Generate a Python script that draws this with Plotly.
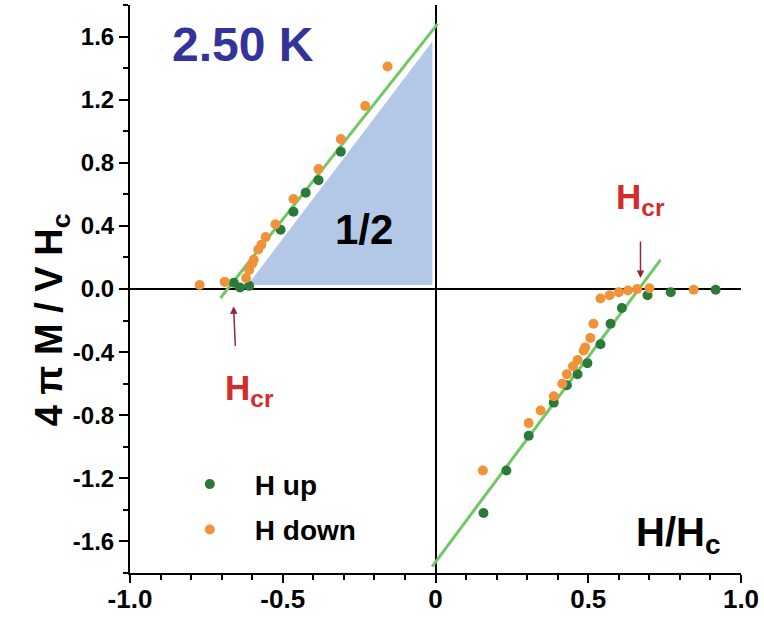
import plotly.graph_objects as go

# ---- data ----
up_x = [-0.66, -0.64, -0.61, -0.507, -0.465, -0.425, -0.383, -0.31,
        0.694, 0.77, 0.917, 0.61, 0.573, 0.54, 0.497, 0.465, 0.43, 0.387,
        0.305, 0.232, 0.157]
up_y = [0.04, 0.01, 0.02, 0.375, 0.49, 0.61, 0.69, 0.87,
        -0.04, -0.02, -0.005, -0.12, -0.22, -0.35, -0.47, -0.54, -0.61, -0.72,
        -0.93, -1.15, -1.42]

down_x = [-0.772, -0.69, -0.62, -0.61, -0.60, -0.595, -0.58, -0.57, -0.556,
          -0.524, -0.465, -0.383, -0.31, -0.23, -0.157,
          0.845, 0.70, 0.66, 0.63, 0.60, 0.57, 0.54, 0.517, 0.507, 0.49,
          0.485, 0.465, 0.45, 0.43, 0.415, 0.387, 0.344, 0.305, 0.155]
down_y = [0.025, 0.045, 0.07, 0.12, 0.16, 0.185, 0.25, 0.28, 0.33,
          0.41, 0.57, 0.76, 0.95, 1.16, 1.41,
          -0.005, 0.005, 0.0, -0.01, -0.02, -0.04, -0.06, -0.22, -0.31, -0.37,
          -0.39, -0.45, -0.49, -0.54, -0.6, -0.68, -0.77, -0.85, -1.15]

fit_left_x = [-0.704, 0.007]
fit_left_y = [-0.057, 1.68]
fit_right_x = [-0.011, 0.7365]
fit_right_y = [-1.759, 0.185]

tri_x = [-0.615, -0.01, -0.01, -0.615]
tri_y = [0.025, 0.025, 1.57, 0.025]

x_tickvals = [-1.0, -0.5, 0, 0.5, 1.0]
x_ticktext = ["-1.0", "-0.5", "0", "0.5", "1.0"]
y_tickvals = [-1.6, -1.2, -0.8, -0.4, 0.0, 0.4, 0.8, 1.2, 1.6]
y_ticktext = ["-1.6", "-1.2", "-0.8", "-0.4", "0.0", "0.4", "0.8", "1.2", "1.6"]

FONT = "Liberation Sans, Arial, sans-serif"
GREEN = "#2b7a3a"
ORANGE = "#f0923a"
FITC = "rgb(110,200,100)"

fig = go.Figure()

fig.add_trace(go.Scatter(x=tri_x, y=tri_y, fill="toself", mode="none",
                         fillcolor="#b3c8e6", showlegend=False, hoverinfo="skip"))
fig.add_trace(go.Scatter(x=fit_left_x, y=fit_left_y, mode="lines",
                         line=dict(color=FITC, width=3), showlegend=False))
fig.add_trace(go.Scatter(x=fit_right_x, y=fit_right_y, mode="lines",
                         line=dict(color=FITC, width=3), showlegend=False))
fig.add_trace(go.Scatter(x=up_x, y=up_y, mode="markers", name="H up", legendgroup="a",
                         marker=dict(color=GREEN, size=10, symbol="circle")))
fig.add_trace(go.Scatter(x=down_x, y=down_y, mode="markers", name="H down", legendgroup="b",
                         marker=dict(color=ORANGE, size=10, symbol="circle")))

fig.update_xaxes(range=[-1.0, 1.0], tickvals=x_tickvals, ticktext=x_ticktext,
                 showgrid=False, zeroline=True, zerolinecolor="black", zerolinewidth=2,
                 showline=True, linecolor="black", linewidth=2,
                 ticks="outside", ticklen=8, tickwidth=2, tickcolor="black",
                 ticklabelstandoff=-6,
                 minor=dict(dtick=0.1, ticks="outside", ticklen=5, tickwidth=2,
                            tickcolor="black", showgrid=False),
                 tickfont=dict(family=FONT, size=26, color="black", weight="bold"))
fig.update_yaxes(range=[-1.8, 1.8], tickvals=y_tickvals, ticktext=y_ticktext,
                 showgrid=False, zeroline=True, zerolinecolor="black", zerolinewidth=2,
                 showline=True, linecolor="black", linewidth=2,
                 ticks="outside", ticklen=9, tickwidth=2, tickcolor="black",
                 minor=dict(dtick=0.2, ticks="outside", ticklen=5, tickwidth=2,
                            tickcolor="black", showgrid=False),
                 tickfont=dict(family=FONT, size=24, color="black", weight="bold"))

annotations = [
    dict(x=-0.63, y=1.55, xref="x", yref="y", text="2.50 K", showarrow=False,
         font=dict(family=FONT, size=48, color="#33339a", weight="bold")),
    dict(x=-0.235, y=0.38, xref="x", yref="y", text="1/2", showarrow=False,
         font=dict(family=FONT, size=42, color="black", weight="bold")),
    dict(x=0.795, y=-1.56, xref="x", yref="y", text="H/H<sub>c</sub>", showarrow=False,
         font=dict(family=FONT, size=40, color="black", weight="bold")),
    dict(x=0.671, y=0.57, xref="x", yref="y", text="H<sub>cr</sub>", showarrow=False,
         font=dict(family=FONT, size=35, color="#d42b2b", weight="bold")),
    dict(x=-0.609, y=-0.64, xref="x", yref="y", text="H<sub>cr</sub>", showarrow=False,
         font=dict(family=FONT, size=35, color="#d42b2b", weight="bold")),
    dict(x=0.671, y=0.07, ax=0.671, ay=0.31, xref="x", yref="y", axref="x", ayref="y",
         text="", showarrow=True, arrowhead=2, arrowsize=1, arrowwidth=1.5,
         arrowcolor="#8b2a3a"),
    dict(x=-0.661, y=-0.11, ax=-0.655, ay=-0.37, xref="x", yref="y", axref="x", ayref="y",
         text="", showarrow=True, arrowhead=2, arrowsize=1, arrowwidth=1.5,
         arrowcolor="#8b2a3a"),
    dict(x=-0.17, y=0.445, xref="paper", yref="paper", text="4 π M / V H<sub>c</sub>",
         textangle=-90, showarrow=False,
         font=dict(family=FONT, size=38, color="black", weight="bold")),
]

fig.update_layout(
    width=764, height=621,
    margin=dict(l=130, r=23, t=5, b=48),
    paper_bgcolor="white", plot_bgcolor="white",
    annotations=annotations,
    showlegend=True,
    legend=dict(x=0.057, y=0.20, xanchor="left", yanchor="top",
                bgcolor="rgba(0,0,0,0)", itemwidth=80, tracegroupgap=6,
                font=dict(family=FONT, size=28, color="black", weight="bold")),
)

fig.write_html("out.html")
